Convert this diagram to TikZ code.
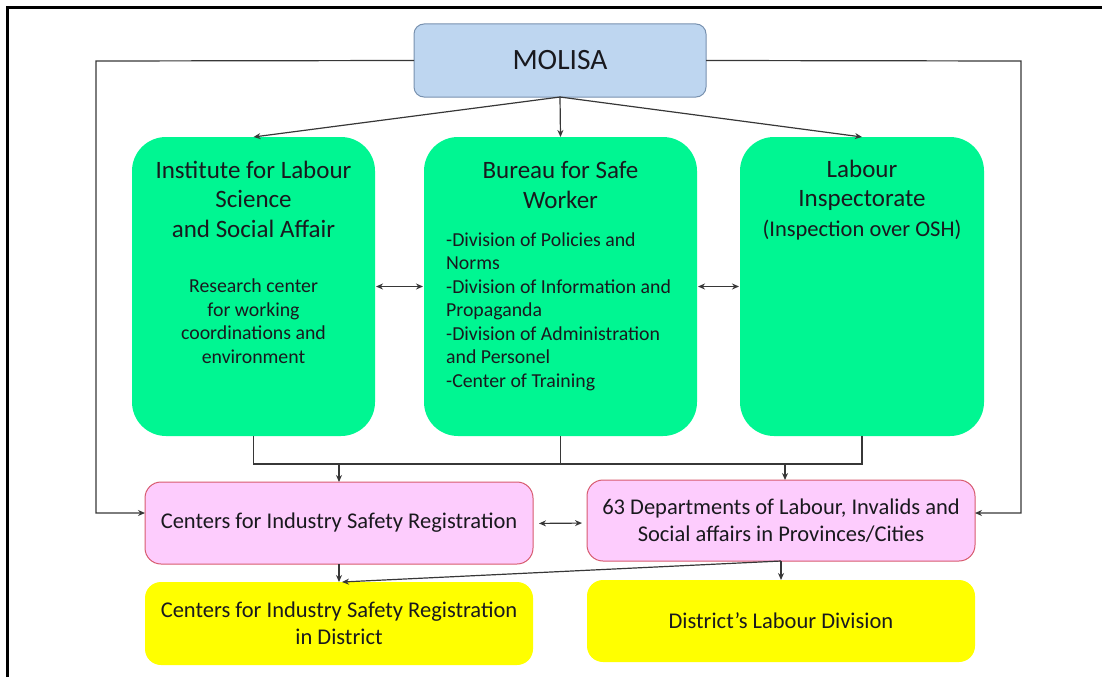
\documentclass[tikz,border=0pt]{standalone}
\usepackage{fontspec}
\setmainfont{Carlito}
\usetikzlibrary{arrows.meta}
\definecolor{molfill}{RGB}{190,214,240}
\definecolor{moldraw}{RGB}{120,145,175}
\definecolor{greenfill}{RGB}{0,246,146}
\definecolor{pinkfill}{RGB}{253,204,253}
\definecolor{pinkdraw}{RGB}{215,90,110}
\definecolor{yellowfill}{RGB}{255,255,0}
\definecolor{linecol}{RGB}{55,55,55}
\definecolor{txt}{RGB}{25,25,30}
\tikzset{
  boxbase/.style={rectangle, inner sep=0pt, outer sep=0pt},
  molbox/.style={boxbase, fill=molfill, draw=moldraw, line width=1pt, rounded corners=10pt},
  greenbox/.style={boxbase, fill=greenfill, rounded corners=34pt},
  pinkbox/.style={boxbase, fill=pinkfill, draw=pinkdraw, line width=1pt, rounded corners=16pt},
  yellowbox/.style={boxbase, fill=yellowfill, rounded corners=16pt},
  conn/.style={draw=linecol, line width=1.2pt},
  arr/.style={conn, -{Stealth[length=7pt,width=6pt]}},
  darr/.style={conn, {Stealth[length=7pt,width=6pt]}-{Stealth[length=7pt,width=6pt]}},
  ttl/.style={inner sep=0pt, align=center, text=txt, font=\fontsize{25}{29.5}\selectfont},
  bdy/.style={inner sep=0pt, align=center, text=txt, font=\fontsize{19.8}{23.5}\selectfont},
  lst/.style={inner sep=0pt, align=left, text=txt, font=\fontsize{19.8}{23.5}\selectfont},
  ptxt/.style={inner sep=0pt, align=center, text=txt, font=\fontsize{22.5}{27.5}\selectfont},
}
\begin{document}
\begin{tikzpicture}[x=1pt,y=-1pt]
\useasboundingbox (0,0) rectangle (1102,677);
% frame
\draw[line width=2.7pt] (7.3,677) -- (7.3,7.3) -- (1102,7.3);
% boxes
\node[molbox, minimum width=292pt, minimum height=73pt] (molisa) at (560,60.5) {};
\node[inner sep=0pt, text=txt, font=\fontsize{29.5}{34}\selectfont] (moltxt) at (molisa.center) {MOLISA};
\node[greenbox, minimum width=243pt, minimum height=299pt] (g1) at (253.5,286.5) {};
\node[greenbox, minimum width=273pt, minimum height=299pt] (g2) at (560.5,286.5) {};
\node[greenbox, minimum width=244pt, minimum height=299pt] (g3) at (862,286.5) {};
\node[pinkbox, minimum width=388pt, minimum height=82pt] (p1) at (339,523) {};
\node[pinkbox, minimum width=388pt, minimum height=81pt] (p2) at (781,520.5) {};
\node[yellowbox, minimum width=388pt, minimum height=83pt] (y1) at (339,623.5) {};
\node[yellowbox, minimum width=388pt, minimum height=82pt] (y2) at (781,621) {};
% texts (base anchor = baseline of last line)
\node[ttl, anchor=base] (g1t) at (253.5,237) {Institute for Labour\\Science\\and Social Affair};
\node[bdy, anchor=base] (g1b) at (253.5,363) {Research center\\for working\\coordinations and\\environment};
\node[ttl, anchor=base] (g2t) at (560.5,208) {Bureau for Safe\\Worker};
\node[lst, anchor=base west] (g2b) at (446,387) {-Division of Policies and\\Norms\\-Division of Information and\\Propaganda\\-Division of Administration\\and Personel\\-Center of Training};
\node[ttl, anchor=base] (g3t) at (862,236) {Labour\\Inspectorate\\{\fontsize{22.5}{29}\selectfont(Inspection over OSH)}};
\node[ptxt] (p1t) at (p1.center) {Centers for Industry Safety Registration};
\node[ptxt] (p2t) at (p2.center) {63 Departments of Labour, Invalids and\\Social affairs in Provinces/Cities};
\node[ptxt] (y1t) at (y1.center) {Centers for Industry Safety Registration\\in District};
\node[ptxt] (y2t) at (y2.center) {District's Labour Division};
% connectors from MOLISA
\coordinate (lc) at (96,61);
\coordinate (rc) at (1021,61);
\draw[arr] (molisa.west) -- (lc) |- ([yshift=10pt]p1.west);
\draw[arr] (molisa.east) -- (rc) |- ([yshift=7.5pt]p2.east);
\draw[arr] (molisa.south) -- (g1.north);
\draw[arr] (molisa.south) -- (g2.north);
\draw[arr] (molisa.south) -- (g3.north);
% between green boxes
\draw[darr, shorten <=1pt, shorten >=1pt] (g1.east) -- (g2.west);
\draw[darr, shorten <=1pt, shorten >=1pt] (g2.east) -- (g3.west);
% bus
\coordinate (busl) at (253.5,464);
\coordinate (busr) at (862,464);
\coordinate (bus1) at (339,464);
\coordinate (bus2) at (785,464);
\draw[conn] (g1.south) -- (busl) -- (busr) -- (g3.south);
\draw[conn] (g2.south) -- (g2.south |- busl);
\draw[arr] (bus1) -- (bus1 |- p1.north);
\draw[arr] (bus2) -- (bus2 |- p2.north);
% pink level
\draw[darr, shorten <=6pt, shorten >=5pt] ([yshift=-0.5pt]p1.east) -- (p1.east -| p2.west);
\draw[arr] (p1.south) -- (y1.north);
\draw[arr] (p2.south) -- ([xshift=3pt]y1.north);
\draw[arr] (p2.south) -- (y2.north);
\end{tikzpicture}
\end{document}
